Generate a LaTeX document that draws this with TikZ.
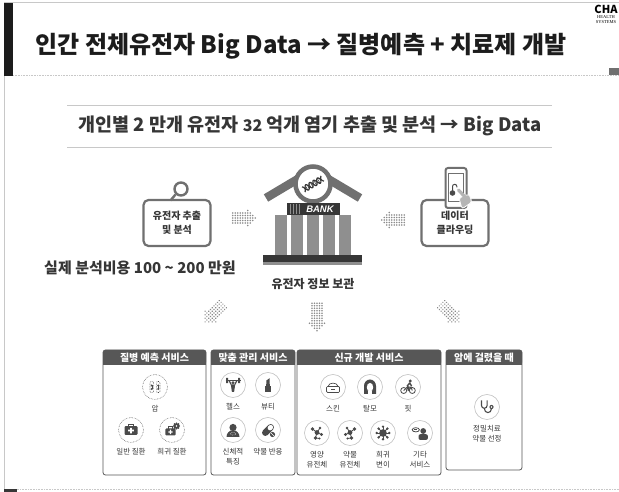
\documentclass[tikz,border=0pt]{standalone}
\usepackage{fontspec}
\setmainfont{Noto Sans CJK KR}
\newfontfamily\logofont{Liberation Serif}
\newfontfamily\bankfont{Liberation Sans}
\usetikzlibrary{positioning}
\definecolor{inkdark}{HTML}{1C1C1C}
\definecolor{inkgray}{HTML}{363636}
\definecolor{midgray}{HTML}{707070}
\definecolor{bargray}{HTML}{575757}
\definecolor{colgray}{HTML}{8F8F8F}
\definecolor{rulegray}{HTML}{C8C8C8}
\definecolor{ringgray}{HTML}{C2C2C2}
\definecolor{dotgray}{HTML}{8C8C8C}
\definecolor{iconc}{HTML}{4A4A4A}
\definecolor{handgray}{HTML}{B5B5B5}

\tikzset{
  pics/dotarr/.style={code={
    \begin{scope}[xshift={-(#1+4)*1.25pt}]
      \foreach \i in {0,...,#1}
        \foreach \j in {-2,...,2}
          \fill[dotgray] (\i*2.5,\j*2.5) circle (0.8);
      \foreach \k/\h/\n in {1/3/6,2/2/4,3/1/2,4/0/0}
        \foreach \j in {0,...,\n}
          \fill[dotgray] ({(#1+\k)*2.5},{(\j-\h)*2.5}) circle (0.8);
    \end{scope}}},
  pics/vials/.style={code={
    \foreach \x in {-3.2,3.2}{
      \draw[iconc, line width=0.6pt, densely dotted, rounded corners=1pt] (\x-1.8,-5.5) rectangle (\x+1.8,5.5);
      \draw[iconc, line width=0.6pt] (\x,1.5) -- (\x,-2);
      \fill[iconc] (\x,1.5) circle (1.1) (\x,-2) circle (1.1);}}},
  pics/kit/.style={code={
    \draw[iconc, line width=1.1pt] (-2.5,3.5) -- (-2.5,5.8) -- (2.5,5.8) -- (2.5,3.5);
    \fill[iconc, rounded corners=1pt] (-6.5,-5) rectangle (6.5,3.8);
    \fill[white] (-0.9,-3.4) rectangle (0.9,2.2) (-2.8,-1.5) rectangle (2.8,0.3);}},
  pics/gear/.style={code={
    \fill[iconc] (0,0) circle (2.6);
    \foreach \a in {0,45,...,315} \fill[iconc] (\a:2.6) circle (1.1);
    \fill[white] (0,0) circle (0.9);}},
  pics/gym/.style={code={
    \draw[iconc, line width=1.2pt] (-7.5,4.5) -- (7.5,4.5);
    \fill[iconc] (-7,1.8) rectangle (-5,7.2) (5,1.8) rectangle (7,7.2);
    \draw[iconc, line width=1.2pt] (-4,4.5) -- (-1.8,0.5) (4,4.5) -- (1.8,0.5);
    \fill[iconc] (0,2.2) circle (1.7);
    \fill[iconc] (-2.2,0.6) -- (2.2,0.6) -- (1.1,-7) -- (-1.1,-7) -- cycle;}},
  pics/lipstick/.style={code={
    \fill[iconc] (-2.6,-7) rectangle (2.6,-1.2);
    \fill[iconc] (-2,-0.6) rectangle (2,1);
    \fill[iconc] (-1.6,1) -- (-1.6,4.5) -- (1.6,6.8) -- (1.6,1) -- cycle;}},
  pics/bust/.style={code={
    \fill[iconc] (-6.5,-7) arc (180:0:6.5 and 6.8) -- cycle;
    \fill[iconc] (0,2.5) circle (3.6);
    \draw[white, line width=0.5pt, densely dotted] (0,-3.8) ellipse (2.8 and 1.3);}},
  pics/pill/.style={code={
    \begin{scope}[rotate=45]
      \fill[iconc, rounded corners=3pt] (-7,-3.2) rectangle (7,3.2);
      \fill[white, rounded corners=2pt] (0.6,-2.3) rectangle (6.1,2.3);
    \end{scope}
    \fill[iconc] (4.5,-4.5) circle (2.6);
    \draw[white, line width=0.5pt] (3,-3) -- (6,-6);}},
  pics/jar/.style={code={
    \draw[iconc, line width=0.7pt, rounded corners=1pt] (-6.5,-5.5) rectangle (6.5,0.5);
    \draw[iconc, line width=0.7pt] (-5,0.5) .. controls (-4.5,5) and (4.5,5) .. (5,0.5);
    \fill[iconc] (-2,-3.3) rectangle (2,-1.6);}},
  pics/hair/.style={code={
    \fill[iconc] (-6,-7) -- (-6,1) arc (180:0:6 and 6.5) -- (6,-7) -- cycle;
    \fill[white] (0,-0.3) ellipse (3.2 and 4.4);
    \fill[white] (-2,-7) rectangle (2,-4);}},
  pics/bike/.style={code={
    \draw[iconc, line width=0.8pt] (-4.3,-3.5) circle (3) (4.3,-3.5) circle (3);
    \draw[iconc, line width=0.9pt] (-4.3,-3.5) -- (-0.8,-0.2) -- (3,-0.2) -- (4.3,-3.5) (-0.8,-0.2) -- (0.2,-3.5) -- (3,-0.2);
    \fill[iconc] (2.3,6) circle (1.6);
    \draw[iconc, line width=1.4pt, line cap=round] (1.6,4) -- (-0.6,1.2) -- (0.8,-1.5) (1.6,4) -- (3.5,1.2);}},
  pics/molecule/.style={code={
    \draw[iconc, line width=0.8pt] (-4.5,4) -- (0,0.5) -- (4.5,-1.5) (0,0.5) -- (-1.5,-5) (0,0.5) -- (3,5) (-1.5,-5) -- (2.5,-5.5);
    \fill[iconc] (-4.5,4) circle (1.9) (0,0.5) circle (2.4) (4.5,-1.5) circle (1.6) (-1.5,-5) circle (1.8) (3,5) circle (1.3) (2.5,-5.5) circle (1.2);}},
  pics/virus/.style={code={
    \foreach \a in {0,45,...,315}{
      \draw[iconc, line width=0.9pt] (0,0) -- (\a:6.3);
      \fill[iconc] (\a:6.3) circle (1.3);}
    \fill[iconc] (0,0) circle (3.8);}},
  pics/talker/.style={code={
    \fill[iconc] (3.2,2) circle (2.9);
    \fill[iconc, rounded corners=2pt] (-1.5,-7) rectangle (7.9,-1.2);
    \draw[iconc, line width=0.8pt] (-4.2,3.2) ellipse (3.6 and 2.1);
    \draw[iconc, line width=0.6pt] (-5.8,3.2) -- (-2.6,3.2);}},
  pics/steth/.style={code={
    \draw[iconc, line width=1.1pt] (-5.5,6.5) -- (-5.5,1.5) arc (180:360:2.8) -- (0.1,6.5);
    \draw[iconc, line width=1.1pt] (-2.7,-1.3) .. controls (-2.7,-7) and (4.5,-7) .. (4.5,-1.5);
    \fill[iconc] (4.5,0) circle (2.1);
    \fill[white] (4.5,0) circle (0.8);}}
}

\begin{document}
\begin{tikzpicture}[x=1pt, y=1pt,
  node distance=4pt,
  box/.style={draw=midgray, line width=2.2pt, rounded corners=5pt, fill=white, minimum width=67pt, minimum height=46pt, align=center, text=inkgray, font=\fontsize{10}{14}\selectfont\bfseries},
  ico/.style={circle, draw=ringgray, line width=0.6pt, fill=white, minimum size=25pt, inner sep=0pt},
  dotico/.style={ico, densely dotted, draw=midgray},
  lbl/.style={inner sep=1pt, align=center, text=inkgray, font=\fontsize{7.5}{10}\selectfont},
  headtxt/.style={text=white, inner sep=0pt, font=\fontsize{10}{12}\selectfont\bfseries},
  panel/.style={draw=bargray, line width=0.8pt, rounded corners=2.5pt}
]
\useasboundingbox (0,0) rectangle (619,492);
\fill[white] (0,0) rectangle (619,492);

\draw[rulegray, line width=0.8pt] (4,2) -- (4,490) -- (619,490);
\draw[rulegray, line width=0.6pt, densely dotted] (4,3) -- (619,3);
\fill[inkgray] (4,0) rectangle (17,3);
\fill[inkdark] (4,416) rectangle (13,489);
\draw[rulegray, line width=0.6pt, densely dotted] (13,417) -- (619,417);
\fill[midgray] (609,417) rectangle (619,424);

\node[font=\fontsize{11}{11}\selectfont\bfseries, inner sep=0pt] (logo) at (606,483) {CHA};
\node[font=\logofont\fontsize{4.5}{5}\selectfont, inner sep=0pt, align=center, below=1.5pt of logo] (logotxt) {HEALTH\\SYSTEMS};

\node[text=inkdark, font=\fontsize{24}{28}\selectfont\bfseries] (title) at (301,446) {인간 전체유전자 Big Data → 질병예측 + 치료제 개발};

\draw[rulegray, line width=0.8pt] (67,387) -- (552,387) (67,345) -- (552,345);
\node[text=inkgray, font=\fontsize{18.5}{21}\selectfont\bfseries] (sub) at (310,366) {개인별 2 만개 유전자 {\fontsize{16}{21}\selectfont 32} 억개 염기 추출 및 분석 → Big Data};

\draw[midgray, line width=8.5pt, line join=round] (266,294) -- (313,322) -- (360,294);
\draw[midgray, line width=4.5pt, fill=white] (313,308) circle (17.5);
\begin{scope}[shift={(313,308)}, rotate=30]
  \draw[inkgray, line width=1.2pt, domain=-11:11, samples=40] plot (\x,{3*sin(\x*40)});
  \draw[inkgray, line width=1.2pt, domain=-11:11, samples=40] plot (\x,{-3*sin(\x*40)});
  \foreach \x in {-9.5,-7.5,...,9.5} \draw[inkgray, line width=0.5pt] (\x,{3*sin(\x*40)}) -- (\x,{-3*sin(\x*40)});
\end{scope}
\fill[inkgray] (287,277) rectangle (340,289);
\foreach \sx in {290,293,296,299} \draw[colgray, line width=0.8pt] (\sx,278) -- (\sx,288);
\node[text=white, font=\bankfont\fontsize{9.5}{9.5}\selectfont\bfseries\itshape, inner sep=0pt] (banktag) at (320,283) {BANK};
\foreach \cx in {281,297,313,329,345} \fill[colgray] (\cx-6,237) rectangle (\cx+6,277);
\fill[inkgray] (263,230) rectangle (362,237);
\fill[colgray] (263,227) rectangle (362,230);
\node[text=inkgray, font=\fontsize{12}{14}\selectfont\bfseries] (store) at (313,208) {유전자 정보 보관};

\node[box] (extract) at (177,269) {유전자 추출\\및 분석};
\node[circle, draw=midgray, line width=2.4pt, minimum size=13pt, inner sep=0pt] (lens) at (181,303) {};
\draw[midgray, line width=2.4pt] (lens.225) -- ++(-5,-6);

\node[box] (cloud) at (455,269) {데이터\\클라우딩};
\node[draw=midgray, line width=2pt, fill=white, rounded corners=2.5pt, minimum width=21pt, minimum height=40pt] (phone) at (456,304) {};
\draw[midgray, line width=0.7pt] (448.5,291) rectangle (463.5,319);
\fill[iconc] (452.5,299) circle (2.8);
\draw[iconc, line width=1pt] (452.5,301) -- (452.5,305.5) arc (180:0:2.2) -- (456.9,304.5);
\fill[handgray, draw=white, line width=0.8pt, rounded corners=2.5pt] (462,283) -- (472,290) -- (469,298) -- (459,294) -- cycle;
\draw[handgray, line width=3.2pt, line cap=round] (465,295) -- (458.5,302);

\pic at (244,274) {dotarr=5};
\pic[rotate=180] at (393,272) {dotarr=5};

\node[text=inkgray, font=\fontsize{15}{18}\selectfont\bfseries] (cost) at (140,224) {실제 분석비용 100 \textasciitilde{} 200 만원};

\pic[rotate=225] at (214,179) {dotarr=6};
\pic[rotate=-90] at (317,175) {dotarr=7};
\pic[rotate=-45] at (450,179) {dotarr=6};

\foreach \nm/\xa/\xb/\yb/\ttl in {predict/103/206/17/질병 예측 서비스, care/211/295/17/맞춤 관리 서비스, newdev/297/441/17/신규 개발 서비스, oncall/446/522/22/암에 걸렸을 때}{
  \fill[bargray, rounded corners=2.5pt] (\xa,127) rectangle (\xb,142);
  \fill[bargray] (\xa,127) rectangle (\xb,132);
  \draw[panel] (\xa,\yb) rectangle (\xb,142);
  \node[headtxt] (\nm) at ({(\xa+\xb)/2},134.5) {\ttl};
}

\node[dotico] (cancer) at (155,105) {};
\node[dotico] (common) at (131,62) {};
\node[dotico] (rare) at (172,62) {};
\node[lbl, below=of cancer] (cancer-l) {암};
\node[lbl, below=of common] (common-l) {일반 질환};
\node[lbl, below=of rare] (rare-l) {희귀 질환};
\pic at (cancer) {vials};
\pic at (common) {kit};
\pic[scale=.8] at ([shift={(-1.5,-1.5)}]rare) {kit};
\pic at ([shift={(4.5,4)}]rare) {gear};

\node[ico] (gym) at (233,107) {};
\node[ico] (beauty) at (268,107) {};
\node[ico] (body) at (233,62) {};
\node[ico] (drug) at (268,62) {};
\node[lbl, below=of gym] (gym-l) {헬스};
\node[lbl, below=of beauty] (beauty-l) {뷰티};
\node[lbl, below=of body] (body-l) {신체적\\특징};
\node[lbl, below=of drug] (drug-l) {약물 반응};
\pic at (gym) {gym};
\pic at (beauty) {lipstick};
\pic at (body) {bust};
\pic at (drug) {pill};

\node[ico] (skin) at (333,105) {};
\node[ico] (hair) at (370,105) {};
\node[ico] (fit) at (408,105) {};
\node[ico] (nutri) at (317,59) {};
\node[ico] (pharma) at (350,59) {};
\node[ico] (variant) at (383,59) {};
\node[ico] (other) at (420,59) {};
\node[lbl, below=of skin] (skin-l) {스킨};
\node[lbl, below=of hair] (hair-l) {탈모};
\node[lbl, below=of fit] (fit-l) {핏};
\node[lbl, below=of nutri] (nutri-l) {영양\\유전체};
\node[lbl, below=of pharma] (pharma-l) {약물\\유전체};
\node[lbl, below=of variant] (variant-l) {희귀\\변이};
\node[lbl, below=of other] (other-l) {기타\\서비스};
\pic at (skin) {jar};
\pic at (hair) {hair};
\pic at (fit) {bike};
\pic at (nutri) {molecule};
\pic[xscale=-1] at (pharma) {molecule};
\pic at (variant) {virus};
\pic at (other) {talker};

\node[ico] (steth) at (487,85) {};
\node[lbl, below=of steth] (steth-l) {정밀치료\\약물 선정};
\pic at (steth) {steth};
\end{tikzpicture}
\end{document}
